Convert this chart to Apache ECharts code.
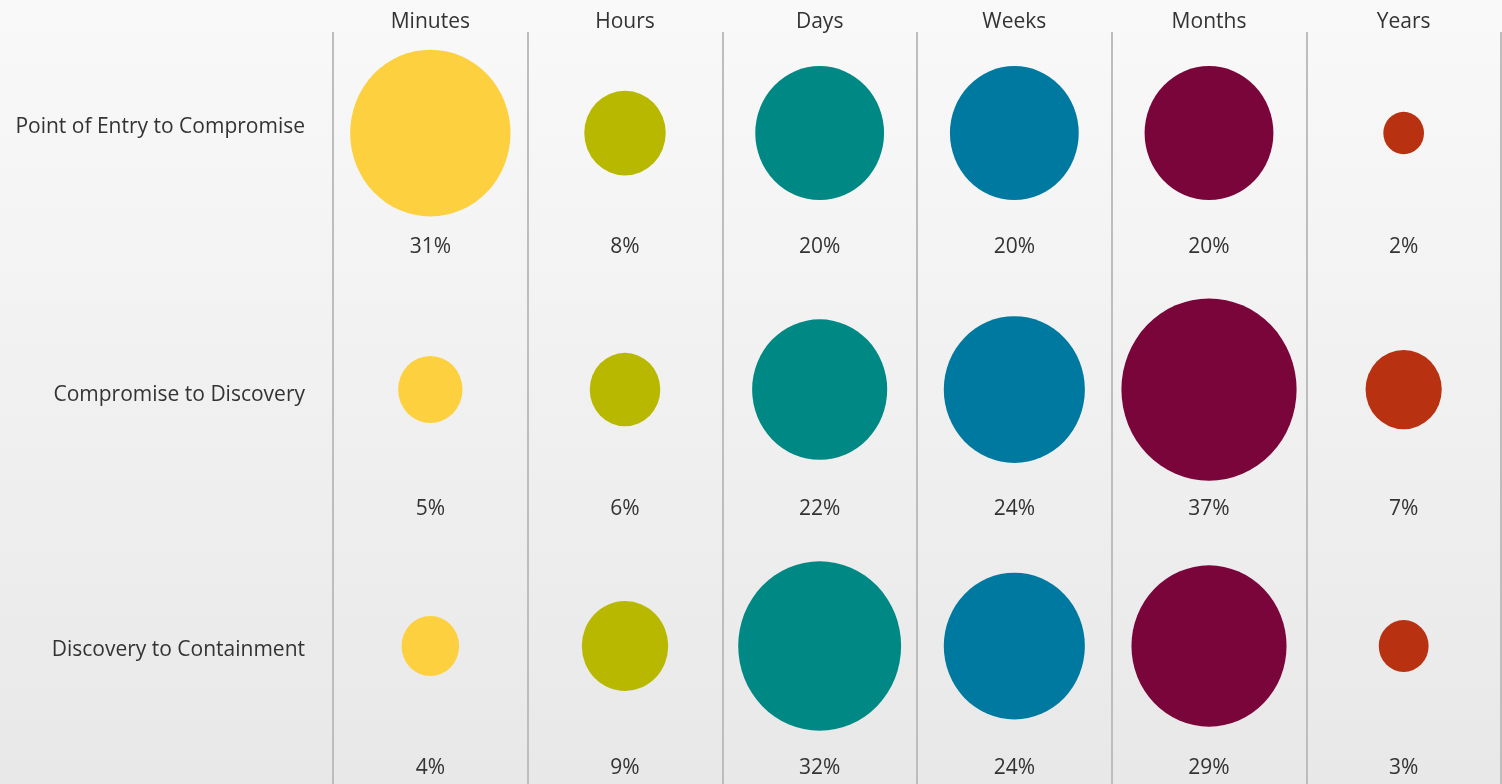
<!DOCTYPE html>
<html>
<head>
<meta charset="utf-8">
<title>Time span of breach events</title>
<script src="https://cdn.jsdelivr.net/npm/echarts@6/dist/echarts.min.js"></script>
<style>
  html, body { margin: 0; padding: 0; }
  #chart { width: 1502px; height: 784px; }
</style>
</head>
<body>
<div id="chart"></div>
<script>
// Time-span buckets (columns) and breach phases (rows)
const timeSpans = ['Minutes', 'Hours', 'Days', 'Weeks', 'Months', 'Years'];
const phases = ['Point of Entry to Compromise', 'Compromise to Discovery', 'Discovery to Containment'];

// Share of breaches per time span, in percent
const entryToCompromise = [31, 8, 20, 20, 20, 2];
const compromiseToDiscovery = [5, 6, 22, 24, 37, 7];
const discoveryToContainment = [4, 9, 32, 24, 29, 3];

const phaseValues = [entryToCompromise, compromiseToDiscovery, discoveryToContainment];

// One colour per time span
const spanColors = ['#FDD03F', '#B8B800', '#008884', '#0079A1', '#79053A', '#B83212'];

// Bubble area is proportional to the percentage; bubbles are drawn slightly taller than wide
const sizeFactor = 28.8;
const bubbleAspect = 1.04;
// Distance from bubble centre to its percentage label, per row (px)
const labelGap = [114, 119, 122];
// Vertical nudge of each row title (px)
const phaseNudge = [-6, 5, 4];

const bubbleData = [];
const labelData = [];
phaseValues.forEach((vals, r) => {
  vals.forEach((v, c) => {
    bubbleData.push({
      value: [c + 0.5, r, v],
      itemStyle: { color: spanColors[c], opacity: 1 }
    });
    labelData.push({
      value: [c + 0.5, r, v],
      label: { offset: [0, labelGap[r]] }
    });
  });
});

const textColor = '#333333';
const fontFamily = '"Open Sans", "Noto Sans", sans-serif';

const chart = echarts.init(document.getElementById('chart'));
chart.setOption({
  animation: false,
  backgroundColor: {
    type: 'linear', x: 0, y: 0, x2: 0, y2: 1,
    colorStops: [
      { offset: 0, color: '#F9F9F9' },
      { offset: 1, color: '#E8E8E8' }
    ]
  },
  grid: { left: 333, right: 1, top: 32, bottom: 0, containLabel: false },
  xAxis: [
    {
      type: 'value', min: 0, max: timeSpans.length, interval: 1,
      axisLine: { show: false }, axisTick: { show: false }, axisLabel: { show: false },
      splitLine: { show: true, lineStyle: { color: '#BDBDBD', width: 2 } }
    },
    {
      type: 'category', data: timeSpans, position: 'top', boundaryGap: true,
      axisLine: { show: false }, axisTick: { show: false }, splitLine: { show: false },
      axisLabel: { color: textColor, fontSize: 21, fontFamily: fontFamily, margin: -1 }
    }
  ],
  yAxis: {
    type: 'value', inverse: true, min: -0.394, max: 2.538,
    axisLine: { show: false }, axisTick: { show: false }, axisLabel: { show: false },
    splitLine: { show: false }
  },
  series: [
    {
      name: 'share',
      type: 'scatter',
      symbol: 'circle',
      symbolSize: d => {
        const s = sizeFactor * Math.sqrt(d[2]);
        return [s, s * bubbleAspect];
      },
      data: bubbleData,
      itemStyle: { opacity: 1 },
      silent: true
    },
    {
      name: 'percent',
      type: 'scatter',
      symbolSize: 0,
      data: labelData,
      silent: true,
      itemStyle: { opacity: 1 },
      label: {
        show: true, position: 'inside',
        formatter: p => p.value[2] + '%',
        color: textColor, fontSize: 21, fontFamily: fontFamily
      }
    },
    {
      name: 'phase',
      type: 'scatter',
      symbolSize: 0,
      data: phases.map((name, r) => ({
        value: [0, r], name: name,
        label: { offset: [0, phaseNudge[r]] }
      })),
      silent: true,
      itemStyle: { opacity: 1 },
      label: {
        show: true, position: 'left', distance: 28,
        formatter: p => p.name,
        color: textColor, fontSize: 21, fontFamily: fontFamily
      }
    }
  ]
});
</script>
</body>
</html>
